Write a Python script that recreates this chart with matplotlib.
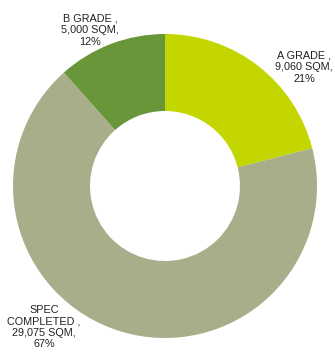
import matplotlib.pyplot as plt

grades = ['A GRADE', 'SPEC COMPLETED', 'B GRADE']
areas = [9060, 29075, 5000]
shares = [21, 67, 12]
colors = ['#c3d600', '#a9ae8a', '#6a963a']

plt.rcParams['font.family'] = ['Liberation Sans', 'DejaVu Sans']

fig = plt.figure(figsize=(3.35, 3.52), dpi=100)
ax = fig.add_axes([0, 0, 1, 1])

ax.pie(areas, colors=colors, startangle=90, counterclock=False,
       center=(165, 166), radius=152, frame=True,
       wedgeprops=dict(width=77, linewidth=0))
ax.set_xlim(0, 335)
ax.set_ylim(0, 352)
ax.axis('off')

# label text for each slice
label_a = f'{grades[0]} ,\n{areas[0]:,} SQM,\n{shares[0]}%'
label_s = 'SPEC\nCOMPLETED ,\n' + f'{areas[1]:,} SQM,\n{shares[1]}%'
label_b = f'{grades[2]} ,\n{areas[2]:,} SQM,\n{shares[2]}%'

kw = dict(ha='center', va='center', fontsize=7.8, color='#222222', linespacing=1.2)
ax.text(304, 352 - 67, label_a, **kw)
ax.text(44, 352 - 327, label_s, **kw)
ax.text(90, 352 - 30, label_b, **kw)

fig.savefig('out.png', dpi=100)
